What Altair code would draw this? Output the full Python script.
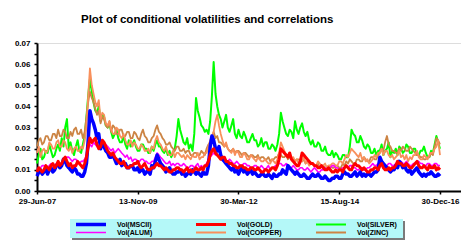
import altair as alt
import pandas as pd

series_names = ["Vol(MSCII)", "Vol(GOLD)", "Vol(SILVER)", "Vol(ALUM)", "Vol(COPPER)", "Vol(ZINC)"]
series_colors = ["#0000ff", "#ff0000", "#00ff00", "#ff00ff", "#f8905c", "#cc8444"]
series_widths = [3.5, 3, 2, 1.6, 1.8, 1.8]
draw_order = ["Vol(SILVER)", "Vol(ZINC)", "Vol(COPPER)", "Vol(ALUM)", "Vol(MSCII)", "Vol(GOLD)"]

start_date = "2007-06-29"
end_date = "2016-12-30"

# semi-monthly readings (two per month)
msci = [.007, .009, .010, .008, .009, .011, .008, .010, .011, .009, .010, .012,
        .013, .011, .012, .015, .014, .012, .011, .010, .009, .011, .010, .008,
        .008, .007, .007, .009, .013, .024, .038, .034, .032, .029, .025, .027,
        .020, .023, .021, .019, .018, .016, .016, .017, .015, .013, .014, .015,
        .012, .013, .013, .011, .011, .012, .012, .010, .010, .011, .009, .010,
        .010, .008, .009, .010, .008, .012, .011, .014, .017, .015, .013, .012,
        .011, .009, .010, .011, .009, .008, .008, .009, .009, .010, .008, .009,
        .007, .008, .009, .008, .010, .009, .008, .009, .008, .007, .009, .008,
        .008, .012, .021, .026, .024, .020, .019, .021, .017, .015, .014, .013,
        .012, .011, .010, .011, .009, .010, .008, .010, .011, .009, .010, .008,
        .009, .010, .008, .009, .008, .007, .007, .008, .008, .007, .007, .008,
        .007, .006, .008, .007, .007, .008, .008, .010, .009, .008, .012, .011,
        .010, .009, .008, .009, .008, .007, .007, .008, .007, .006, .006, .007,
        .008, .007, .007, .008, .007, .006, .006, .007, .006, .005, .005, .006,
        .006, .007, .007, .006, .006, .008, .009, .008, .008, .007, .007, .008,
        .009, .007, .008, .009, .007, .008, .007, .008, .008, .007, .008, .009,
        .009, .010, .016, .014, .013, .012, .011, .010, .009, .010, .010, .012,
        .011, .014, .013, .011, .012, .010, .009, .010, .008, .009, .010, .011,
        .009, .008, .007, .008, .007, .008, .008, .009, .008, .007, .007, .008,
        .007]

gold = [.009, .011, .010, .009, .010, .012, .011, .010, .012, .013, .011, .012,
        .014, .012, .013, .015, .016, .014, .012, .013, .011, .012, .012, .014,
        .013, .012, .011, .013, .016, .021, .025, .023, .024, .025, .022, .020,
        .021, .024, .023, .021, .019, .018, .017, .018, .016, .015, .014, .013,
        .013, .014, .012, .011, .011, .012, .012, .013, .013, .014, .012, .011,
        .012, .013, .011, .010, .010, .011, .011, .012, .013, .012, .012, .011,
        .010, .011, .010, .009, .009, .010, .010, .011, .011, .010, .010, .009,
        .010, .011, .009, .010, .009, .010, .011, .010, .010, .011, .010, .012,
        .012, .014, .017, .019, .020, .018, .017, .016, .015, .016, .016, .014,
        .014, .013, .013, .012, .012, .011, .011, .012, .012, .011, .011, .010,
        .010, .011, .011, .010, .010, .011, .010, .009, .009, .010, .010, .009,
        .010, .011, .011, .010, .012, .015, .020, .019, .018, .017, .016, .018,
        .015, .014, .013, .012, .012, .014, .018, .017, .016, .015, .014, .013,
        .013, .012, .012, .011, .011, .012, .011, .010, .010, .011, .010, .009,
        .009, .010, .009, .010, .010, .009, .011, .012, .011, .010, .010, .012,
        .013, .012, .012, .011, .010, .011, .010, .009, .009, .010, .010, .011,
        .011, .010, .012, .013, .011, .010, .010, .011, .010, .011, .011, .012,
        .014, .013, .013, .012, .012, .013, .012, .011, .011, .012, .013, .014,
        .012, .011, .011, .012, .011, .010, .012, .011, .011, .012, .010, .011,
        .010]

silver = [.013, .017, .020, .015, .016, .019, .018, .022, .019, .016, .017, .020,
          .022, .019, .025, .021, .030, .034, .020, .023, .019, .017, .021, .024,
          .019, .018, .022, .026, .035, .045, .053, .047, .042, .038, .037, .040,
          .033, .036, .035, .031, .030, .032, .028, .025, .027, .029, .025, .023,
          .023, .026, .022, .020, .024, .021, .022, .024, .021, .019, .019, .022,
          .022, .020, .020, .018, .018, .021, .019, .022, .024, .021, .021, .019,
          .018, .020, .017, .019, .016, .018, .020, .026, .034, .029, .026, .023,
          .022, .025, .020, .022, .019, .027, .044, .038, .035, .031, .030, .028,
          .029, .027, .033, .045, .061, .046, .040, .036, .034, .030, .033, .036,
          .030, .028, .031, .034, .027, .025, .029, .026, .025, .028, .026, .023,
          .023, .025, .027, .024, .024, .021, .022, .025, .021, .023, .023, .020,
          .020, .022, .021, .019, .022, .027, .037, .033, .030, .027, .026, .029,
          .028, .025, .033, .029, .027, .030, .032, .028, .026, .028, .024, .022,
          .024, .021, .021, .023, .022, .019, .019, .021, .018, .017, .017, .019,
          .016, .018, .017, .015, .015, .017, .017, .016, .016, .021, .029, .027,
          .026, .023, .023, .026, .024, .021, .020, .022, .021, .018, .018, .020,
          .017, .019, .019, .022, .017, .019, .020, .023, .016, .019, .018, .020,
          .017, .021, .020, .018, .019, .022, .021, .018, .018, .020, .020, .017,
          .017, .019, .019, .021, .018, .016, .016, .019, .018, .022, .026, .023,
          .020]

alum = [.010, .011, .011, .012, .012, .011, .011, .012, .013, .012, .012, .013,
        .014, .013, .013, .014, .015, .016, .016, .015, .014, .015, .015, .014,
        .013, .014, .014, .015, .017, .020, .022, .021, .023, .022, .021, .020,
        .022, .021, .020, .022, .021, .020, .019, .020, .018, .019, .020, .019,
        .018, .017, .016, .017, .015, .016, .014, .015, .015, .014, .014, .015,
        .015, .014, .014, .013, .013, .014, .014, .016, .018, .017, .016, .015,
        .014, .013, .013, .014, .012, .013, .012, .013, .013, .012, .012, .013,
        .012, .011, .011, .012, .012, .011, .012, .013, .011, .012, .011, .012,
        .013, .015, .016, .017, .018, .017, .017, .016, .016, .015, .015, .014,
        .014, .015, .014, .013, .013, .014, .013, .012, .012, .013, .013, .012,
        .012, .011, .011, .012, .012, .011, .011, .012, .011, .010, .011, .012,
        .010, .011, .011, .012, .012, .013, .013, .012, .012, .013, .012, .011,
        .011, .012, .011, .010, .010, .011, .011, .010, .010, .011, .010, .009,
        .010, .011, .010, .009, .009, .010, .010, .011, .010, .011, .011, .012,
        .012, .011, .011, .010, .010, .011, .011, .012, .011, .012, .012, .011,
        .011, .010, .010, .011, .011, .010, .010, .011, .011, .012, .013, .012,
        .012, .013, .014, .013, .013, .012, .012, .013, .013, .012, .012, .013,
        .013, .014, .014, .013, .013, .014, .013, .012, .012, .013, .013, .014,
        .014, .013, .013, .012, .012, .013, .013, .012, .012, .013, .013, .012,
        .012]

copper = [.018, .021, .016, .019, .020, .018, .019, .023, .022, .020, .020, .023,
          .024, .021, .021, .024, .023, .020, .019, .021, .018, .020, .021, .019,
          .019, .021, .020, .024, .030, .045, .058, .050, .046, .042, .040, .043,
          .034, .037, .036, .032, .031, .033, .029, .027, .027, .030, .029, .026,
          .025, .027, .024, .022, .022, .024, .021, .023, .022, .020, .020, .022,
          .021, .019, .019, .020, .018, .021, .020, .024, .026, .023, .022, .020,
          .019, .021, .018, .017, .017, .019, .016, .018, .018, .017, .016, .017,
          .015, .017, .016, .015, .017, .016, .016, .018, .015, .016, .016, .018,
          .018, .021, .024, .026, .028, .033, .036, .031, .027, .024, .021, .023,
          .020, .019, .018, .020, .017, .019, .018, .016, .016, .018, .017, .015,
          .015, .017, .016, .015, .014, .016, .015, .014, .014, .015, .014, .013,
          .013, .015, .014, .013, .015, .018, .023, .021, .019, .017, .016, .018,
          .015, .016, .014, .015, .013, .015, .014, .016, .013, .014, .012, .013,
          .013, .012, .012, .014, .013, .012, .012, .013, .011, .012, .012, .013,
          .013, .012, .012, .014, .014, .013, .015, .017, .016, .018, .020, .019,
          .018, .017, .016, .018, .015, .016, .014, .015, .013, .014, .015, .017,
          .016, .018, .018, .020, .017, .019, .019, .017, .016, .017, .015, .016,
          .017, .019, .016, .017, .015, .017, .014, .016, .015, .017, .017, .019,
          .016, .015, .015, .017, .016, .015, .017, .018, .018, .020, .021, .024,
          .017]

zinc = [.021, .024, .025, .022, .023, .026, .026, .024, .024, .027, .027, .025,
        .029, .026, .026, .029, .028, .025, .025, .028, .026, .029, .030, .027,
        .027, .029, .025, .028, .035, .042, .047, .044, .042, .039, .036, .038,
        .032, .035, .034, .031, .030, .033, .028, .031, .030, .027, .027, .029,
        .029, .026, .026, .028, .028, .025, .025, .028, .027, .025, .024, .027,
        .029, .026, .025, .023, .023, .025, .026, .029, .031, .028, .027, .025,
        .024, .022, .022, .023, .021, .020, .019, .021, .021, .019, .019, .020,
        .018, .019, .019, .017, .017, .018, .018, .017, .017, .019, .018, .017,
        .020, .022, .023, .025, .028, .025, .026, .023, .023, .022, .021, .022,
        .020, .019, .019, .020, .018, .019, .019, .018, .017, .018, .018, .017,
        .016, .017, .017, .016, .016, .017, .015, .016, .016, .015, .015, .016,
        .014, .015, .015, .016, .016, .018, .017, .016, .016, .017, .015, .016,
        .016, .015, .014, .015, .015, .014, .014, .015, .013, .014, .014, .013,
        .013, .012, .012, .013, .011, .012, .012, .011, .011, .012, .012, .011,
        .011, .012, .012, .011, .011, .013, .012, .014, .013, .015, .014, .013,
        .013, .015, .015, .014, .014, .016, .015, .014, .014, .016, .016, .015,
        .015, .017, .018, .020, .019, .023, .026, .022, .021, .019, .019, .018,
        .018, .020, .019, .021, .020, .019, .019, .021, .020, .019, .018, .017,
        .017, .016, .016, .015, .015, .016, .016, .018, .017, .021, .025, .024,
        .022]

y_ticks = [0.0, 0.005, 0.01, 0.015, 0.02, 0.025, 0.03, 0.035, 0.04, 0.045, 0.05, 0.055, 0.06, 0.065, 0.07]
x_tick_dates = [(2007, 6, 29), (2009, 11, 13), (2012, 3, 30), (2014, 8, 15), (2016, 12, 30)]
x_domain = [(2007, 6, 29), (2017, 6, 29)]

all_series = [msci, gold, silver, alum, copper, zinc]
n_points = len(msci)
dates = pd.date_range(start_date, end_date, periods=n_points).normalize().strftime("%Y-%m-%d")
frames = []
for name, vals in zip(series_names, all_series):
    frames.append(pd.DataFrame({"date": list(dates[:len(vals)]), "value": vals, "series": name}))
df = pd.concat(frames, ignore_index=True)


def dt(t):
    return alt.DateTime(year=t[0], month=t[1], date=t[2], utc=True)


font = "Liberation Sans"

x_enc = alt.X("date:T",
              scale=alt.Scale(type="utc", domain=[dt(d) for d in x_domain], nice=False),
              axis=alt.Axis(values=[dt(d) for d in x_tick_dates],
                            labelExpr="utcFormat(datum.value, '%d-%b-%y')",
                            title=None, labelFontSize=8,
                            labelFont=font, labelFontWeight="bold", labelColor="black",
                            tickSize=3, labelPadding=3, labelFlush=False,
                            domainColor="black", domainWidth=2, tickColor="black",
                            tickWidth=1.5, grid=False))
y_enc = alt.Y("value:Q",
              scale=alt.Scale(domain=[0, 0.07], nice=False, zero=True),
              axis=alt.Axis(values=y_ticks, title=None,
                            labelExpr="round(datum.value*1000) % 10 == 0 ? format(datum.value, '.2f') : ''",
                            labelFontSize=8, labelFont=font, labelFontWeight="bold",
                            labelColor="black", tickSize=3, labelPadding=4,
                            domainColor="black", domainWidth=2, tickColor="black",
                            tickWidth=1.5, grid=False, labelFlush=False))
legend_props = dict(orient="none", legendX=35, legendY=176,
                    direction="horizontal", columns=3, title=None,
                    symbolType="stroke",
                    symbolSize=900, labelFontSize=7, labelFont=font,
                    labelFontWeight="bold", labelColor="black",
                    clipHeight=7, rowPadding=0, columnPadding=32,
                    gridAlign="all", padding=2, labelOffset=9)
color_enc = alt.Color("series:N",
                      scale=alt.Scale(domain=series_names, range=series_colors),
                      legend=alt.Legend(**legend_props))
sw_enc = alt.StrokeWidth("series:N",
                         scale=alt.Scale(type="ordinal", domain=series_names, range=series_widths),
                         legend=alt.Legend(**legend_props))

# legend box (background and drop shadow), placed below the plot area
box = pd.DataFrame({"part": ["shadow", "box"]})
legend_shadow = alt.Chart(box).transform_filter(alt.datum.part == "shadow").mark_rect(
    color="#7a7a7a", clip=False).encode(
    x=alt.value(35), x2=alt.value(368), y=alt.value(178), y2=alt.value(197))
legend_box = alt.Chart(box).transform_filter(alt.datum.part == "box").mark_rect(
    color="#b4f8f8", clip=False).encode(
    x=alt.value(33), x2=alt.value(366), y=alt.value(176), y2=alt.value(195))

layers = []
for name in draw_order:
    layers.append(
        alt.Chart(df).transform_filter(alt.datum.series == name)
        .mark_line(strokeJoin="round")
        .encode(x=x_enc, y=y_enc, color=color_enc, strokeWidth=sw_enc)
    )

chart = alt.layer(legend_shadow, legend_box, *layers).properties(
    width=424, height=148,
    title=alt.TitleParams("Plot of conditional volatilities and correlations",
                          anchor="start", frame="group", dx=44, offset=14, fontSize=11.5,
                          font=font, fontWeight="bold", color="black"),
    autosize=alt.AutoSizeParams(type="none"),
    padding={"left": 29, "top": 35, "right": 0, "bottom": 50},
).configure_view(stroke=None).configure(background="white")

chart.save("out.html", embed_options={"renderer": "svg", "actions": False})
